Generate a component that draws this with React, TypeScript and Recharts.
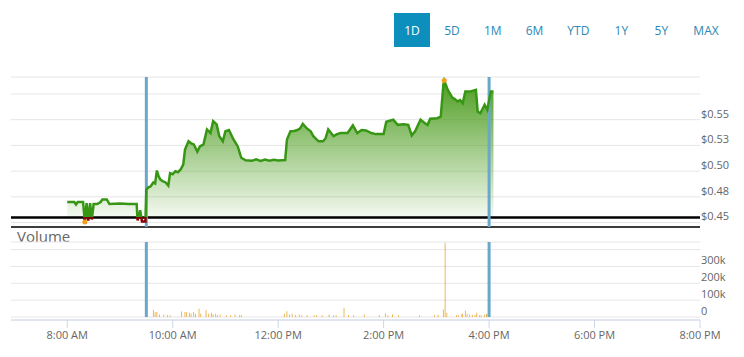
import {
  Area,
  Bar,
  BarChart,
  CartesianGrid,
  ComposedChart,
  Line,
  ReferenceLine,
  XAxis,
  YAxis
} from 'recharts';

const RANGES = ['1D', '5D', '1M', '6M', 'YTD', '1Y', '5Y', 'MAX'];
const ACTIVE_RANGE = '1D';

const PRICE_TIMES = [
  '8:00', '8:08', '8:10', '8:12', '8:18', '8:20', '8:22', '8:24', '8:26', '8:28',
  '8:30', '8:34', '8:38', '8:40', '8:45', '8:48', '9:00', '9:10', '9:19', '9:20',
  '9:23', '9:25', '9:29', '9:30', '9:32', '9:35', '9:38', '9:40', '9:42', '9:44',
  '9:46', '9:49', '9:52', '9:55', '9:57', '10:00', '10:03', '10:06', '10:09', '10:12',
  '10:14', '10:18', '10:21', '10:24', '10:28', '10:31', '10:35', '10:39', '10:43', '10:46',
  '10:50', '10:53', '10:57', '11:00', '11:04', '11:09', '11:14', '11:18', '11:23', '11:30',
  '11:35', '11:40', '11:45', '11:50', '11:55', '12:00', '12:08', '12:10', '12:14', '12:18',
  '12:22', '12:25', '12:28', '12:32', '12:37', '12:40', '12:46', '12:51', '12:54', '12:57',
  '13:03', '13:07', '13:11', '13:19', '13:25', '13:30', '13:35', '13:40', '13:46', '13:51',
  '14:00', '14:03', '14:07', '14:11', '14:16', '14:23', '14:28', '14:32', '14:36', '14:42',
  '14:47', '14:50', '14:53', '15:01', '15:05', '15:08', '15:09', '15:13', '15:18', '15:21',
  '15:24', '15:27', '15:30', '15:33', '15:39', '15:45', '15:47', '15:50', '15:55', '15:58',
  '16:02', '16:05'
];
const PRICES = [
  0.47, 0.47, 0.4675, 0.47, 0.47, 0.4505, 0.469, 0.452, 0.469, 0.453,
  0.468, 0.468, 0.47, 0.4725, 0.4725, 0.468, 0.4685, 0.468, 0.468, 0.452,
  0.462, 0.451, 0.451, 0.482, 0.484, 0.4853, 0.489, 0.488, 0.5006, 0.495,
  0.4918, 0.49, 0.489, 0.486, 0.498, 0.497, 0.5, 0.499, 0.5016, 0.5064,
  0.521, 0.529, 0.527, 0.526, 0.519, 0.524, 0.526, 0.5405, 0.537, 0.5486,
  0.5454, 0.534, 0.529, 0.5388, 0.54, 0.531, 0.524, 0.513, 0.5106, 0.51,
  0.5115, 0.51, 0.5112, 0.5102, 0.511, 0.5104, 0.5108, 0.5308, 0.5388, 0.539,
  0.54, 0.5415, 0.546, 0.542, 0.5388, 0.534, 0.529, 0.529, 0.532, 0.5405,
  0.534, 0.536, 0.537, 0.537, 0.5444, 0.537, 0.54, 0.5395, 0.537, 0.536,
  0.536, 0.548, 0.549, 0.55, 0.545, 0.5455, 0.545, 0.5347, 0.539, 0.55,
  0.5466, 0.545, 0.551, 0.5515, 0.553, 0.584, 0.588, 0.579, 0.5716, 0.57,
  0.5677, 0.569, 0.566, 0.5775, 0.5775, 0.579, 0.558, 0.5563, 0.5645, 0.5597,
  0.5775, 0.5775
];
const PREV_CLOSE = 0.455;
const SESSION_MARKS = ['9:30', '16:00'];

// volume in thousands of shares
const VOLUME_TIMES = [
  '9:30', '9:38', '9:40', '9:42', '9:45', '9:50', '9:54', '9:57', '10:10', '10:14',
  '10:16', '10:19', '10:21', '10:24', '10:26', '10:30', '10:32', '10:38', '10:41', '10:44',
  '10:46', '10:49', '10:51', '10:54', '11:01', '11:06', '11:11', '11:16', '11:18', '12:07',
  '12:10', '12:13', '12:16', '12:20', '12:24', '12:27', '12:33', '12:41', '12:44', '12:50',
  '12:58', '13:03', '13:06', '13:15', '13:20', '13:26', '13:38', '13:55', '14:02', '14:05',
  '14:10', '14:17', '14:41', '14:58', '15:02', '15:08', '15:10', '15:12', '15:23', '15:25',
  '15:29', '15:30', '15:33', '15:35', '15:38', '15:41', '15:44', '15:46', '15:49', '15:51',
  '15:55', '15:57', '15:59'
];
const VOLUMES = [
  110, 43, 29, 30, 15, 15, 12, 10, 33, 30,
  30, 25, 20, 30, 20, 49, 20, 40, 20, 25,
  15, 20, 10, 15, 10, 10, 15, 10, 12, 20,
  35, 15, 20, 12, 15, 10, 10, 10, 12, 10,
  15, 10, 10, 53, 12, 10, 16, 12, 22, 10,
  16, 10, 10, 10, 14, 45, 440, 25, 10, 10,
  16, 20, 39, 20, 15, 12, 12, 26, 10, 10,
  15, 18, 18
];

const TIME_TICKS = ['8:00', '10:00', '12:00', '14:00', '16:00', '18:00', '20:00'];
const PRICE_TICKS = [0.45, 0.475, 0.5, 0.525, 0.55, 0.575];
const VOLUME_TICKS = [0, 100, 200, 300, 400];

const FONT = "'Open Sans', sans-serif";
const toMin = (t: string) => {
  const [h, m] = t.split(':').map(Number);
  return h * 60 + m;
};
const timeLabel = (v: number) => {
  const h = Math.floor(v / 60);
  const m = v % 60;
  const h12 = h % 12 === 0 ? 12 : h % 12;
  return `${h12}:${String(m).padStart(2, '0')} ${h < 12 ? 'AM' : 'PM'}`;
};

const priceData = PRICE_TIMES.map((t, i) => ({ t: toMin(t), price: PRICES[i] }));
const volumeData = VOLUME_TIMES.map((t, i) => ({ t: toMin(t), vol: VOLUMES[i] }));
const hi = Math.max(...PRICES);
const lo = Math.min(...PRICES);
const hiIdx = PRICES.indexOf(hi);
const loIdx = PRICES.indexOf(lo);
const splitAt = (hi - PREV_CLOSE) / (hi - lo);

const X_DOMAIN = [416, 1200];
const PRICE_DOMAIN = [0.4457, 0.5915];
const VOL_DOMAIN = [-17.6, 445];

const PriceTick = ({ x, y, payload }: any) => {
  if (payload.value > 0.56) return <g />;
  const label = (Math.round(payload.value * 100 + 1e-6) / 100).toFixed(2);
  return (
    <text x={x} y={y - 6} dy='0.355em' fill='#666' fontSize={11} fontFamily={FONT}>
      ${label}
    </text>
  );
};

const VolumeTick = ({ x, y, payload }: any) => {
  if (payload.value > 350) return <g />;
  return (
    <text x={x} y={y - 6} dy='0.355em' fill='#666' fontSize={11} fontFamily={FONT}>
      {payload.value === 0 ? '0' : `${payload.value}k`}
    </text>
  );
};

const ExtremeDot = ({ cx, cy, index }: any) =>
  index === hiIdx || index === loIdx ? (
    <circle key={index} cx={cx} cy={cy} r={2.5} fill='#f0a020' />
  ) : (
    <g key={index} />
  );

export default function App() {
  return (
    <div style={{ position: 'relative', width: 744, height: 357, margin: -8, fontFamily: FONT, background: '#fff' }}>
      <div style={{ position: 'absolute', left: 394, top: 13, display: 'flex' }}>
        {RANGES.map(r => (
          <div
            key={r}
            style={{
              height: 34,
              minWidth: 36,
              padding: '0 10px',
              boxSizing: 'border-box',
              marginRight: 4,
              display: 'flex',
              alignItems: 'center',
              justifyContent: 'center',
              fontSize: 12,
              background: r === ACTIVE_RANGE ? '#0d8fbd' : 'transparent',
              color: r === ACTIVE_RANGE ? '#fff' : '#2a88b4'
            }}
          >
            {r}
          </div>
        ))}
      </div>

      <div style={{ position: 'absolute', left: 0, top: 0 }}>
        <ComposedChart width={744} height={232} data={priceData} margin={{ top: 77, right: 0, left: 11, bottom: 5 }}>
          <defs>
            <linearGradient id='priceFill' x1='0' y1='0' x2='0' y2='1'>
              <stop offset='0%' stopColor='#4f9e22' stopOpacity={1} />
              <stop offset='100%' stopColor='#4f9e22' stopOpacity={0.03} />
            </linearGradient>
            <linearGradient id='priceStroke' x1='0' y1='0' x2='0' y2='1'>
              <stop offset={splitAt} stopColor='#379614' />
              <stop offset={splitAt} stopColor='#8b0000' />
            </linearGradient>
          </defs>
          <CartesianGrid horizontal vertical={false} stroke='#e6e6e6' />
          <XAxis dataKey='t' type='number' domain={X_DOMAIN} hide allowDataOverflow />
          <YAxis
            orientation='right'
            width={44}
            domain={PRICE_DOMAIN}
            ticks={PRICE_TICKS}
            interval={0}
            allowDataOverflow
            axisLine={false}
            tickLine={false}
            tickSize={0}
            tickMargin={1}
            tick={<PriceTick />}
          />
          <Area
            type='linear'
            dataKey='price'
            baseValue={PREV_CLOSE}
            stroke='none'
            fill='url(#priceFill)'
            fillOpacity={1}
            isAnimationActive={false}
          />
          <ReferenceLine y={PREV_CLOSE} stroke='#000' strokeWidth={2.5} />
          <ReferenceLine y={PRICE_DOMAIN[0]} stroke='#000' strokeWidth={1.5} />
          {SESSION_MARKS.map(s => (
            <ReferenceLine key={s} x={toMin(s)} stroke='#69a8c8' strokeWidth={3} />
          ))}
          <Line
            type='linear'
            dataKey='price'
            stroke='url(#priceStroke)'
            strokeWidth={2.5}
            dot={<ExtremeDot />}
            activeDot={false}
            isAnimationActive={false}
          />
        </ComposedChart>
      </div>

      <div style={{ position: 'absolute', left: 17, top: 229, fontSize: 15, lineHeight: 1, color: '#666' }}>Volume</div>

      <div style={{ position: 'absolute', left: 0, top: 230 }}>
        <BarChart width={744} height={127} data={volumeData} margin={{ top: 12, right: 0, left: 11, bottom: 0 }}>
          <CartesianGrid horizontal vertical={false} stroke='#e6e6e6' />
          <XAxis
            dataKey='t'
            type='number'
            domain={X_DOMAIN}
            ticks={TIME_TICKS.map(toMin)}
            interval={0}
            tickFormatter={timeLabel}
            height={37}
            stroke='#ccd6eb'
            tickSize={8}
            tickMargin={3}
            tick={{ fill: '#666', fontSize: 11, fontFamily: FONT }}
            allowDataOverflow
          />
          <YAxis
            orientation='right'
            width={44}
            domain={VOL_DOMAIN}
            ticks={VOLUME_TICKS}
            interval={0}
            allowDataOverflow
            axisLine={false}
            tickLine={false}
            tickSize={0}
            tickMargin={1}
            tick={<VolumeTick />}
          />
          {SESSION_MARKS.map(s => (
            <ReferenceLine
              key={s}
              segment={[{ x: toMin(s), y: 0 }, { x: toMin(s), y: VOL_DOMAIN[1] }]}
              stroke='#69a8c8'
              strokeWidth={3}
            />
          ))}
          <Bar dataKey='vol' fill='#eba52a' barSize={1} isAnimationActive={false} />
        </BarChart>
      </div>
    </div>
  );
}
